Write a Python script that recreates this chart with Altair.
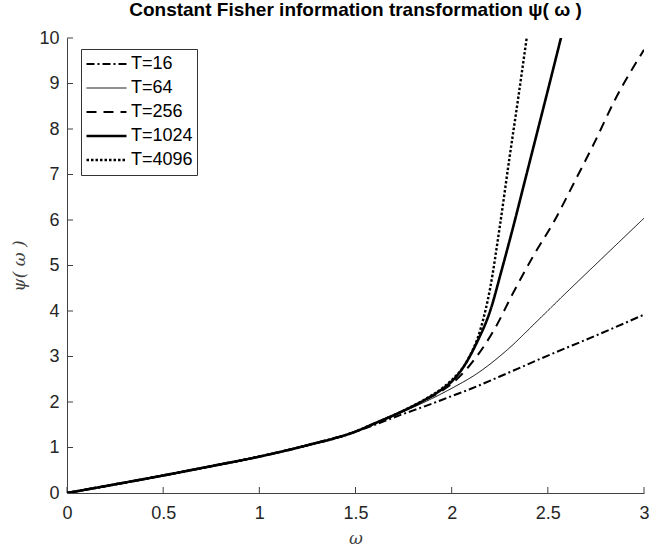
import altair as alt
import pandas as pd

# ---- data ----
series_labels = ["T=16", "T=64", "T=256", "T=1024", "T=4096"]

omega_common = [0.0, 0.25, 0.5, 0.75, 1.0, 1.25, 1.5]
psi_common = [0.0, 0.19, 0.385, 0.59, 0.80, 1.05, 1.35]

omega_t16 = [1.6, 1.75, 1.87, 2.0, 2.1, 2.25, 2.5, 2.75, 3.0]
psi_t16 = [1.50, 1.74, 1.92, 2.13, 2.29, 2.56, 3.02, 3.46, 3.92]

omega_t64 = [1.6, 1.75, 1.87, 2.0, 2.13, 2.29, 2.445, 2.6, 2.78, 3.0]
psi_t64 = [1.52, 1.79, 2.02, 2.30, 2.62, 3.15, 3.78, 4.42, 5.15, 6.04]

omega_t256 = [1.6, 1.75, 1.87, 1.95, 2.0, 2.06, 2.13, 2.22, 2.32, 2.43, 2.53, 2.64, 2.74, 2.85, 3.0]
psi_t256 = [1.53, 1.81, 2.06, 2.25, 2.40, 2.64, 3.0, 3.58, 4.40, 5.25, 5.95, 6.85, 7.68, 8.65, 9.74]

omega_t1024 = [1.6, 1.75, 1.87, 1.95, 2.0, 2.05, 2.13, 2.2, 2.26, 2.32, 2.38, 2.44, 2.5, 2.58]
psi_t1024 = [1.53, 1.81, 2.07, 2.28, 2.45, 2.70, 3.30, 4.0, 4.9, 5.85, 6.85, 7.85, 8.85, 10.2]

omega_t4096 = [1.6, 1.75, 1.87, 1.95, 2.0, 2.08, 2.15, 2.2, 2.25, 2.3, 2.345, 2.39]
psi_t4096 = [1.53, 1.81, 2.08, 2.30, 2.48, 2.90, 3.60, 4.50, 5.85, 7.35, 8.65, 10.0]

x_ticks = [0, 0.5, 1, 1.5, 2, 2.5, 3]
y_ticks = [0, 1, 2, 3, 4, 5, 6, 7, 8, 9, 10]

dash_styles = [[8, 3, 2, 3], [1, 0], [10, 7], [1, 0], [2.5, 2]]
line_widths = [2.0, 1.0, 2.0, 2.6, 2.4]

# ---- build long table ----
rows = []
tails = [(omega_t16, psi_t16), (omega_t64, psi_t64), (omega_t256, psi_t256),
         (omega_t1024, psi_t1024), (omega_t4096, psi_t4096)]
for lab, (ox, py) in zip(series_labels, tails):
    for o, p in zip(omega_common + ox, psi_common + py):
        rows.append({"T": lab, "omega": o, "psi": p})
df = pd.DataFrame(rows)

xt = pd.DataFrame({"v": x_ticks})
yt = pd.DataFrame({"v": y_ticks})

FONT = "Liberation Sans"
AX = "#404040"
W, H = 577, 455

xscale = alt.Scale(domain=[0, 3], nice=False, zero=False)
yscale = alt.Scale(domain=[0, 10], nice=False)

lines = alt.Chart(df).mark_line(clip=True, color="black", interpolate="monotone").encode(
    x=alt.X("omega:Q", scale=xscale,
            axis=alt.Axis(values=x_ticks, format="~g", title="ω", titleFont="DejaVu Serif",
                          titleFontStyle="italic", titleFontWeight="normal", titleFontSize=17,
                          titleColor=AX, titlePadding=8,
                          labelFont=FONT, labelFontSize=18, labelColor="#262626", labelPadding=11,
                          tickSize=0, domainColor=AX, grid=False, labelFlush=False)),
    y=alt.Y("psi:Q", scale=yscale,
            axis=alt.Axis(values=y_ticks, title="ψ( ω )", titleFont="DejaVu Serif",
                          titleFontStyle="italic", titleFontWeight="normal", titleFontSize=17,
                          titleColor=AX, titlePadding=10,
                          labelFont=FONT, labelFontSize=18, labelColor="#262626", labelPadding=8,
                          tickSize=0, domainColor=AX, grid=False)),
    strokeDash=alt.StrokeDash("T:N", scale=alt.Scale(domain=series_labels, range=dash_styles),
                              legend=alt.Legend(title=None, orient="none", legendX=14, legendY=11,
                                                symbolType="stroke", symbolSize=1600,
                                                symbolStrokeColor="black", clipHeight=22,
                                                labelFont=FONT, labelFontSize=18, labelColor="black",
                                                fillColor="white", strokeColor="#333333", padding=4,
                                                rowPadding=2, labelOffset=3)),
    strokeWidth=alt.StrokeWidth("T:N", scale=alt.Scale(type="ordinal", domain=series_labels,
                                                         range=line_widths),
                                legend=alt.Legend(title=None)),
    order=alt.Order("omega:Q"),
)

xticks = alt.Chart(xt).mark_rule(color=AX).encode(
    x="v:Q", y=alt.value(H), y2=alt.value(H - 6))
yticks = alt.Chart(yt).mark_rule(color=AX).encode(
    y="v:Q", x=alt.value(0), x2=alt.value(6))

chart = alt.layer(xticks, yticks, lines).properties(
    width=W, height=H,
    title=alt.TitleParams("Constant Fisher information transformation ψ( ω )", font=FONT,
                          fontSize=19, fontWeight="bold", color="black", anchor="middle", offset=9),
    autosize=alt.AutoSizeParams(type="none"),
    padding={"left": 67, "top": 38, "right": 8, "bottom": 57},
).configure_view(stroke=None)

chart.save("out.html", embed_options={"renderer": "svg", "actions": False})
